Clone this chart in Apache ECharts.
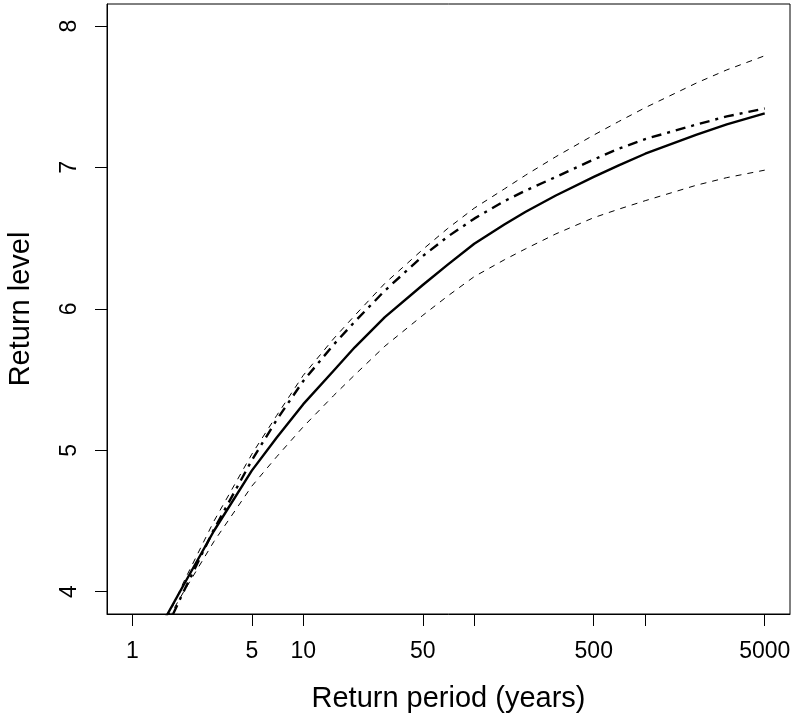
<!DOCTYPE html>
<html><head><meta charset="utf-8">
<script src="https://cdn.jsdelivr.net/npm/echarts@6/dist/echarts.min.js"></script>
<style>html,body{margin:0;padding:0;background:#fff}#c{width:794px;height:713px}</style>
</head><body><div id="c"></div>
<script>
// Return periods (years)
const returnPeriods = [1.5, 2, 3, 5, 7, 10, 15, 20, 30, 50, 70, 100, 150, 200, 300, 500, 700, 1000, 2000, 3000, 5000];
// Fitted return level (solid)
const fittedLevel = [3.776, 4.049, 4.429, 4.856, 5.090, 5.326, 5.561, 5.728, 5.941, 6.169, 6.313, 6.460, 6.597, 6.687, 6.802, 6.933, 7.015, 7.097, 7.232, 7.305, 7.382];
// Alternative fit (dot-dash)
const altLevel = [3.680, 4.003, 4.439, 4.929, 5.216, 5.490, 5.745, 5.909, 6.129, 6.373, 6.511, 6.638, 6.762, 6.837, 6.933, 7.056, 7.133, 7.201, 7.304, 7.361, 7.417];
// Upper confidence bound (dashed)
const upperCI = [3.734, 4.070, 4.498, 4.972, 5.247, 5.530, 5.787, 5.953, 6.180, 6.420, 6.569, 6.712, 6.848, 6.946, 7.076, 7.229, 7.325, 7.423, 7.598, 7.690, 7.790];
// Lower confidence bound (dashed)
const lowerCI = [3.740, 4.000, 4.354, 4.746, 4.955, 5.166, 5.385, 5.533, 5.736, 5.954, 6.091, 6.228, 6.347, 6.425, 6.530, 6.645, 6.705, 6.765, 6.875, 6.928, 6.981];

const xTickValues = [1, 5, 10, 50, 100, 500, 1000, 5000];
const xLabelValues = [1, 5, 10, 50, 500, 5000];
const yTickValues = [4, 5, 6, 7, 8];

const chart = echarts.init(document.getElementById('c'), null, {renderer: 'canvas'});
const pair = arr => returnPeriods.map((t, i) => [t, arr[i]]);
const font = "'Liberation Sans', Arial, sans-serif";
const black = '#000';

function lineSeries(name, arr, width, type) {
  return {
    name: name, type: 'line', data: pair(arr), showSymbol: false, symbol: 'none',
    smooth: false, clip: true,
    lineStyle: {color: black, width: width, type: type, cap: 'butt', join: 'round'}
  };
}

const option = {
  animation: false,
  backgroundColor: '#fff',
  grid: {left: 107, top: 4, width: 683, height: 610, containLabel: false, outerBoundsMode: 'none',
         show: true, borderColor: black, borderWidth: 1, backgroundColor: 'transparent'},
  xAxis: {
    type: 'log', logBase: 10, min: 0.7113, max: 7028,
    name: 'Return period (years)', nameLocation: 'middle', nameGap: 70,
    nameTextStyle: {fontSize: 29, color: black, fontFamily: font},
    axisLine: {show: true, onZero: false, lineStyle: {color: black, width: 1}},
    axisTick: {show: true, length: 12, inside: false, customValues: xTickValues, lineStyle: {color: black, width: 1}},
    axisLabel: {show: true, customValues: xLabelValues, fontSize: 23, color: black, fontFamily: font, margin: 26, formatter: v => String(Math.round(v))},
    splitLine: {show: false}, minorTick: {show: false}, minorSplitLine: {show: false}
  },
  yAxis: {
    type: 'value', min: 3.842, max: 8.156,
    name: 'Return level', nameLocation: 'middle', nameGap: 72, nameRotate: 90,
    nameTextStyle: {fontSize: 29, color: black, fontFamily: font},
    axisLine: {show: true, onZero: false, lineStyle: {color: black, width: 1}},
    axisTick: {show: true, length: 12, inside: false, customValues: yTickValues, lineStyle: {color: black, width: 1}},
    axisLabel: {show: true, customValues: yTickValues, rotate: 90, fontSize: 23, color: black, fontFamily: font, margin: 26, formatter: v => String(v)},
    splitLine: {show: false}
  },
  series: [
    lineSeries('Upper bound', upperCI, 1, [6, 6]),
    lineSeries('Lower bound', lowerCI, 1, [6, 6]),
    lineSeries('Alternative fit', altLevel, 2.4, [10, 6, 3, 6]),
    lineSeries('Return level', fittedLevel, 2.4, 'solid')
  ]
};
chart.setOption(option);
</script>
</body></html>
